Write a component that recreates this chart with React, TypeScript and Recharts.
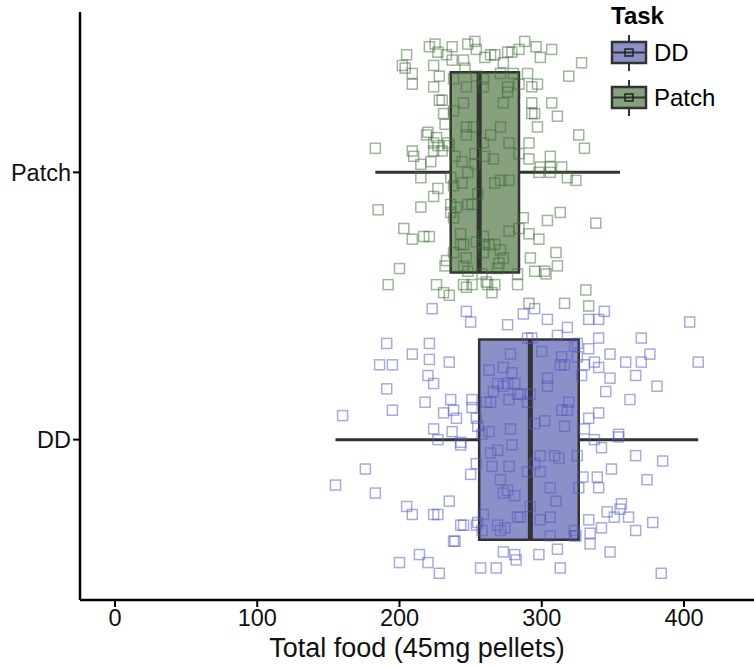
import { ScatterChart, Scatter, XAxis, YAxis, ReferenceArea, ReferenceLine, Legend } from 'recharts';

// Task categories (y positions 1 and 2)
const tasks = ['DD', 'Patch'];
const taskFill = ['#8c90c9', '#87a07e'];
const taskStroke = ['#5257bd', '#3e6e36'];

// Boxplot summaries, in the same order as tasks
const boxMin = [155, 183];
const boxQ1 = [256, 236];
const boxMedian = [292, 256];
const boxQ3 = [326, 284];
const boxMax = [410, 355];

const xTicks = [0, 100, 200, 300, 400];

// Individual animals: total food and the vertical jitter used when plotting
const patchFood = [
  221, 225, 227, 233, 237, 237, 245, 246, 248, 205, 202, 204, 209, 209, 224, 228, 224, 228, 230, 231,
  238, 245, 232, 220, 219, 226, 224, 227, 234, 235, 183, 209, 210, 224, 230, 215, 222, 239, 244, 238,
  247, 247, 247,
  253, 254, 260, 264, 267, 273, 276, 279, 284, 288, 296, 299, 307, 328, 319, 271, 280, 290, 297, 293,
  284, 276, 276, 259, 259, 254, 273, 293, 307, 293, 295, 311, 297, 271, 264, 259, 277, 291, 326, 330,
  284, 291, 306, 266, 253, 252, 299, 306, 314,
  215, 227, 224, 236, 238, 244, 185, 215, 236, 236, 240, 238, 248, 203, 209, 217, 221, 243, 243, 245,
  238, 247, 233, 232, 245, 248, 200, 192, 226, 231, 235, 245, 247,
  298, 306, 318, 324, 267, 271, 277, 255, 251, 313, 304, 338, 287, 284, 277, 291, 298, 259, 254, 259,
  263, 267, 271, 273, 259, 270, 292, 310, 311, 295, 302, 303, 269, 258, 283, 261, 262, 267, 265, 283,
  251, 331, 291, 316, 333,
  248, 253, 260,
];
const patchJitter = [
  0.47, 0.48, 0.45, 0.44, 0.47, 0.42, 0.42, 0.39, 0.48, 0.44, 0.40, 0.39, 0.37, 0.33, 0.40, 0.36, 0.32, 0.27, 0.27, 0.22,
  0.23, 0.26, 0.18, 0.15, 0.14, 0.13, 0.11, 0.10, 0.11, 0.10, 0.09, 0.08, 0.06, 0.08, 0.08, 0.03, 0.04, 0.06, 0.04, 0.35,
  0.32, 0.17, 0.14,
  0.49, 0.46, 0.43, 0.44, 0.44, 0.41, 0.45, 0.45, 0.46, 0.49, 0.47, 0.43, 0.46, 0.41, 0.36, 0.37, 0.37, 0.37, 0.33, 0.32,
  0.33, 0.32, 0.30, 0.32, 0.35, 0.36, 0.26, 0.26, 0.26, 0.22, 0.22, 0.21, 0.17, 0.17, 0.14, 0.11, 0.11, 0.11, 0.14, 0.09,
  0.07, 0.05, 0.06, 0.05, 0.07, 0.17, 0.02, 0.02, 0.02,
  -0.02, -0.06, -0.09, -0.02, -0.05, -0.04, -0.14, -0.13, -0.12, -0.15, -0.13, -0.17, -0.12, -0.21, -0.25, -0.24, -0.24, -0.23, -0.27, -0.27,
  -0.30, -0.32, -0.33, -0.35, -0.35, -0.37, -0.36, -0.42, -0.42, -0.45, -0.46, -0.42, -0.43,
  0.0, 0.0, -0.02, -0.03, -0.04, -0.03, -0.03, -0.08, -0.12, -0.15, -0.18, -0.19, -0.17, -0.21, -0.22, -0.23, -0.25, -0.24, -0.26, -0.27,
  -0.27, -0.27, -0.29, -0.32, -0.30, -0.34, -0.32, -0.30, -0.35, -0.37, -0.37, -0.38, -0.36, -0.38, -0.38, -0.41, -0.42, -0.42, -0.45, -0.42,
  -0.42, -0.44, -0.49, -0.49, -0.50,
  0.0, 0.03, 0.06,
];

const ddFood = [
  223, 247, 250, 276, 191, 221, 209, 221, 235, 186, 195, 220, 224, 191, 236, 218, 195, 238, 231, 240,
  160, 224, 237, 251, 251, 254, 255, 227, 243,
  278, 263, 273, 279, 281, 269, 266, 273, 276, 277, 283, 261, 264, 278, 263, 258,
  287, 295, 304, 318, 311, 333, 340, 344, 404, 340, 333, 370, 348, 359, 370, 376, 410, 330, 337, 340,
  328, 348, 366, 345, 381, 362, 340, 333, 330, 354, 337,
  290, 293, 300, 323, 325, 325, 314, 313, 316, 304, 304, 285, 292, 290, 319, 314, 318, 295, 302, 316,
  176, 155, 183, 205, 209, 224, 227, 235, 254, 250, 243, 245, 254, 239, 238, 214, 220, 200, 228, 257,
  268, 273, 281, 282, 243,
  264, 269, 279, 265, 277, 271, 273, 276, 281, 283, 259, 255, 258, 269, 271, 274,
  342, 354, 366, 385, 349, 374, 329, 339, 340, 356, 355, 346, 351, 361, 333, 342, 366, 378, 334, 334,
  324, 311, 348, 298, 313, 384,
  299, 309, 312, 325, 295, 290, 299, 306, 326, 310, 292, 306, 299, 285, 306, 323, 323,
];
const ddJitter = [
  0.49, 0.48, 0.44, 0.43, 0.36, 0.36, 0.32, 0.30, 0.29, 0.28, 0.28, 0.24, 0.21, 0.19, 0.15, 0.14, 0.11, 0.11, 0.10, 0.08,
  0.09, 0.04, 0.03, 0.15, 0.12, 0.08, 0.05, 0.0, -0.01,
  0.32, 0.26, 0.27, 0.25, 0.21, 0.21, 0.18, 0.20, 0.21, 0.15, 0.17, 0.14, 0.14, 0.04, 0.03, 0.02,
  0.47, 0.49, 0.45, 0.42, 0.39, 0.45, 0.45, 0.48, 0.44, 0.38, 0.34, 0.38, 0.32, 0.29, 0.29, 0.32, 0.29, 0.28, 0.29, 0.27,
  0.24, 0.23, 0.24, 0.18, 0.20, 0.15, 0.10, 0.08, 0.04, 0.02, 0.0,
  0.38, 0.38, 0.33, 0.35, 0.36, 0.31, 0.31, 0.28, 0.28, 0.23, 0.20, 0.17, 0.17, 0.14, 0.14, 0.11, 0.11, 0.06, 0.07, 0.05,
  -0.11, -0.17, -0.20, -0.25, -0.28, -0.28, -0.28, -0.23, -0.09, -0.13, -0.32, -0.32, -0.32, -0.38, -0.38, -0.43, -0.46, -0.46, -0.50, -0.48,
  -0.48, -0.42, -0.43, -0.45, -0.02,
  -0.05, -0.04, -0.02, -0.10, -0.10, -0.15, -0.20, -0.19, -0.21, -0.29, -0.28, -0.31, -0.34, -0.32, -0.34, -0.33,
  -0.03, 0.01, -0.06, -0.08, -0.11, -0.15, -0.14, -0.14, -0.18, -0.24, -0.26, -0.27, -0.29, -0.29, -0.30, -0.33, -0.34, -0.31, -0.35, -0.39,
  -0.36, -0.41, -0.42, -0.43, -0.48, -0.50,
  -0.06, -0.06, -0.07, -0.06, -0.09, -0.12, -0.12, -0.18, -0.18, -0.23, -0.25, -0.29, -0.30, -0.29, -0.36, -0.34, -0.36,
];

const ddPoints = ddFood.map((x, i) => ({ x, y: 1 + ddJitter[i] }));
const patchPoints = patchFood.map((x, i) => ({ x, y: 2 + patchJitter[i] }));

const FONT = "'Liberation Sans', Arial, sans-serif";
const HALF_BOX = 0.375;

const makeSquare = (color: string) => (props: any) => {
  const { cx, cy } = props;
  if (cx == null || cy == null) return null;
  return (
    <rect
      x={cx - 5}
      y={cy - 5}
      width={10}
      height={10}
      fill="none"
      stroke={color}
      strokeOpacity={0.5}
      strokeWidth={1.5}
    />
  );
};

const LegendKey = ({ fill }: { fill: string }) => (
  <svg width={40} height={38} style={{ display: 'block' }}>
    <line x1={19} y1={1} x2={19} y2={37} stroke="#333" strokeWidth={2} />
    <rect x={2} y={8} width={34} height={21} fill={fill} stroke="#333" strokeWidth={2.5} />
    <line x1={2} y1={18.5} x2={36} y2={18.5} stroke="#333" strokeWidth={2} />
    <rect x={15} y={15} width={8} height={7} fill="none" stroke="#222" strokeWidth={1.5} />
  </svg>
);

const renderLegend = () => (
  <div style={{ fontFamily: FONT, color: '#000' }}>
    <div style={{ fontWeight: 'bold', fontSize: 24, lineHeight: '28px', marginLeft: 1 }}>Task</div>
    {tasks.map((t, i) => (
      <div key={t} style={{ display: 'flex', alignItems: 'center', height: 45 }}>
        <LegendKey fill={taskFill[i]} />
        <span style={{ fontSize: 24, marginLeft: 4 }}>{t}</span>
      </div>
    ))}
  </div>
);

export default function App() {
  return (
    <div style={{ position: 'absolute', left: 0, top: 0, background: '#fff' }}>
      <ScatterChart width={754} height={666} margin={{ top: 12, right: 0, bottom: 0, left: 0 }}>
        <XAxis
          type="number"
          dataKey="x"
          domain={[-24.6, 449.2]}
          ticks={xTicks}
          allowDataOverflow
          height={66}
          axisLine={{ stroke: '#000', strokeWidth: 2.5 }}
          tickLine={{ stroke: '#000', strokeWidth: 2 }}
          tickSize={7}
          tick={{ fill: '#111', fontSize: 23.5, fontFamily: FONT }}
          label={{
            value: 'Total food (45mg pellets)',
            position: 'insideBottom',
            offset: 9,
            style: { fill: '#111', fontSize: 27, fontFamily: FONT },
          }}
        />
        <YAxis
          type="number"
          dataKey="y"
          domain={[0.4, 2.6]}
          ticks={[1, 2]}
          allowDataOverflow
          width={80}
          tickFormatter={(v: number) => tasks[v - 1] ?? ''}
          axisLine={{ stroke: '#000', strokeWidth: 2.5 }}
          tickLine={{ stroke: '#000', strokeWidth: 2 }}
          tickSize={7}
          tick={{ fill: '#111', fontSize: 23.5, fontFamily: FONT }}
        />
        {tasks.map((t, i) => (
          <ReferenceArea
            key={`box-${t}`}
            x1={boxQ1[i]}
            x2={boxQ3[i]}
            y1={i + 1 - HALF_BOX}
            y2={i + 1 + HALF_BOX}
            fill={taskFill[i]}
            fillOpacity={1}
            stroke="#333"
            strokeWidth={2.5}
          />
        ))}
        {tasks.map((t, i) => (
          <ReferenceLine
            key={`wlo-${t}`}
            segment={[{ x: boxMin[i], y: i + 1 }, { x: boxQ1[i], y: i + 1 }]}
            stroke="#333"
            strokeWidth={3}
          />
        ))}
        {tasks.map((t, i) => (
          <ReferenceLine
            key={`whi-${t}`}
            segment={[{ x: boxQ3[i], y: i + 1 }, { x: boxMax[i], y: i + 1 }]}
            stroke="#333"
            strokeWidth={3}
          />
        ))}
        {tasks.map((t, i) => (
          <ReferenceLine
            key={`med-${t}`}
            segment={[{ x: boxMedian[i], y: i + 1 - HALF_BOX }, { x: boxMedian[i], y: i + 1 + HALF_BOX }]}
            stroke="#333"
            strokeWidth={5}
          />
        ))}
        <Scatter name="DD" data={ddPoints} shape={makeSquare(taskStroke[0])} isAnimationActive={false} />
        <Scatter name="Patch" data={patchPoints} shape={makeSquare(taskStroke[1])} isAnimationActive={false} />
        <Legend
          layout="vertical"
          align="center"
          verticalAlign="middle"
          content={renderLegend}
          wrapperStyle={{ top: 2, left: 610, width: 140 }}
        />
      </ScatterChart>
    </div>
  );
}
